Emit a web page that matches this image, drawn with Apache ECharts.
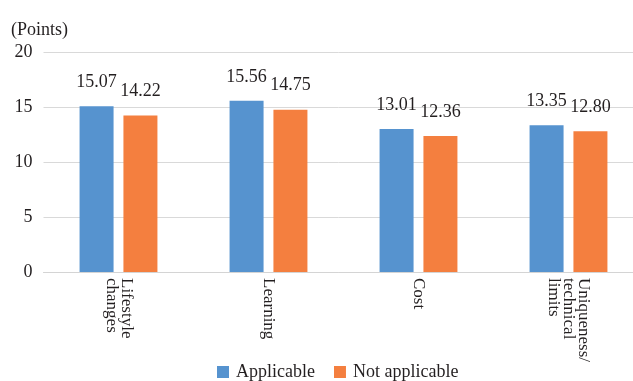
<!DOCTYPE html>
<html>
<head>
<meta charset="utf-8">
<script src="https://cdn.jsdelivr.net/npm/echarts@6/dist/echarts.min.js"></script>
<style>
  html, body { margin: 0; padding: 0; background: #fff; }
  #chart { width: 633px; height: 381px; }
</style>
</head>
<body>
<div id="chart"></div>
<script>
const categories = ['Lifestyle\nchanges', 'Learning', 'Cost', 'Uniqueness/\ntechnical\nlimits'];
const applicable = [15.07, 15.56, 13.01, 13.35];
const notApplicable = [14.22, 14.75, 12.36, 12.80];
const yTicks = [0, 5, 10, 15, 20];

const serif = '"Liberation Serif", "DejaVu Serif", serif';
const textColor = '#231f20';

const chart = echarts.init(document.getElementById('chart'), null, { renderer: 'canvas' });

const valueLabel = {
  show: true,
  position: 'top',
  distance: 15,
  fontFamily: serif,
  fontSize: 18,
  color: textColor,
  formatter: p => p.value.toFixed(2)
};

chart.setOption({
  animation: false,
  textStyle: { fontFamily: serif, color: textColor },
  title: {
    text: '(Points)',
    left: 6,
    top: 16,
    textStyle: { fontFamily: serif, fontSize: 18, fontWeight: 'normal', color: textColor }
  },
  legend: {
    top: 358,
    left: 212,
    itemWidth: 12,
    itemHeight: 12,
    itemGap: 19,
    icon: 'rect',
    textStyle: { fontFamily: serif, fontSize: 18, color: textColor, padding: [0, 0, 0, 2] },
    data: ['Applicable', 'Not applicable']
  },
  // plot area runs past the right edge, so the gridlines are cut by the canvas
  grid: {
    left: 43.5,
    width: 600,
    top: 52,
    bottom: 109,
    containLabel: false,
    outerBoundsMode: 'none'
  },
  xAxis: {
    type: 'category',
    data: categories,
    axisLine: { lineStyle: { color: '#d4d4d4', width: 1 } },
    axisTick: { show: false },
    axisLabel: {
      rotate: -90,
      margin: 6,
      fontFamily: serif,
      fontSize: 17,
      lineHeight: 15,
      color: textColor,
      interval: 0
    }
  },
  yAxis: {
    type: 'value',
    min: yTicks[0],
    max: yTicks[yTicks.length - 1],
    interval: yTicks[1] - yTicks[0],
    axisLine: { show: false },
    axisTick: { show: false },
    splitLine: { lineStyle: { color: '#d9d9d9', width: 1 } },
    axisLabel: { margin: 11, fontFamily: serif, fontSize: 18, color: textColor }
  },
  series: [
    {
      name: 'Applicable',
      type: 'bar',
      data: applicable,
      barWidth: 34,
      barGap: '29%',
      itemStyle: { color: '#5693cf' },
      label: valueLabel
    },
    {
      name: 'Not applicable',
      type: 'bar',
      data: notApplicable,
      barWidth: 34,
      barGap: '29%',
      itemStyle: { color: '#f47f3f' },
      label: valueLabel
    }
  ]
});
</script>
</body>
</html>
